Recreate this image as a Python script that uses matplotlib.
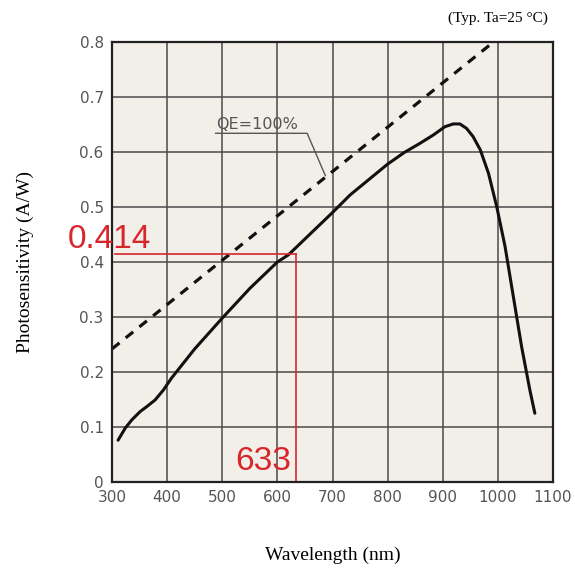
import matplotlib
matplotlib.use("Agg")
import matplotlib.pyplot as plt

# photosensitivity curve (nm, A/W)
wavelength = [311, 324, 336, 351, 363, 378, 393, 408, 450, 500, 550, 600, 620,
              700, 732, 800, 830, 859, 883, 904, 919, 931, 943, 955, 968, 983,
              998, 1013, 1028, 1043, 1058, 1067]
sensitivity = [0.076, 0.098, 0.113, 0.128, 0.137, 0.149, 0.167, 0.189, 0.242,
               0.298, 0.352, 0.400, 0.413, 0.490, 0.522, 0.578, 0.599, 0.616,
               0.631, 0.646, 0.651, 0.651, 0.643, 0.628, 0.604, 0.561, 0.500,
               0.428, 0.337, 0.246, 0.167, 0.125]

# QE = 100 % reference line
qe_wl = [300, 992]
qe_resp = [0.242, 0.800]

# marked operating point
mark_wl = 633
mark_resp = 0.414

xticks = [300, 400, 500, 600, 700, 800, 900, 1000, 1100]
yticks = [0, 0.1, 0.2, 0.3, 0.4, 0.5, 0.6, 0.7, 0.8]
red = "#d8262d"
gray = "#555555"

fig = plt.figure(figsize=(5.75, 5.69), dpi=100)
ax = fig.add_axes([0.1948, 0.1529, 0.767, 0.7733])
ax.set_facecolor("#f2efe8")

ax.set_xlim(300, 1100)
ax.set_ylim(0, 0.8)
ax.set_xticks(xticks)
ax.set_yticks(yticks)
ax.set_xticklabels([str(t) for t in xticks])
ax.set_yticklabels(["0", "0.1", "0.2", "0.3", "0.4", "0.5", "0.6", "0.7", "0.8"])
ax.tick_params(length=0, labelsize=11, labelcolor=gray, pad=6)
ax.grid(True, color="#4a4a4a", linewidth=1.1)
ax.set_axisbelow(True)
for s in ax.spines.values():
    s.set_linewidth(1.6)
    s.set_color("#222222")

ax.plot(qe_wl, qe_resp, color="#111111", linestyle=(0, (3, 2.5)),
        linewidth=2.3)
ax.plot(wavelength, sensitivity, color="#111111", linewidth=2.2,
        solid_joinstyle="round", solid_capstyle="round")

# red guide lines at the marked point
ax.plot([305, mark_wl], [mark_resp, mark_resp], color=red, linewidth=1.2)
ax.plot([mark_wl, mark_wl], [0, mark_resp], color=red, linewidth=1.2)
ax.text(mark_wl - 9, 0.022, str(mark_wl), color=red, fontsize=24,
        family="Liberation Sans", ha="right", va="baseline")
ax.text(220, 0.425, "%.3f" % mark_resp, color=red, fontsize=24,
        family="Liberation Sans", ha="left", va="baseline", clip_on=False)

# QE label with leader line
ax.text(488, 0.642, "QE=100%", color=gray, fontsize=11.5, ha="left",
        va="baseline")
ax.plot([488, 654, 687], [0.634, 0.634, 0.557], color=gray, linewidth=1.0)

ax.set_xlabel("Wavelength (nm)", family="Liberation Serif", fontsize=14,
              labelpad=30)
ax.set_ylabel("Photosensitivity (A/W)", family="Liberation Serif", fontsize=14,
              labelpad=33)
fig.text(0.953, 0.968, "(Typ. Ta=25 \u00b0C)", family="Liberation Serif",
         fontsize=11, ha="right", va="center")

fig.savefig("out.png", dpi=100, facecolor="white")
